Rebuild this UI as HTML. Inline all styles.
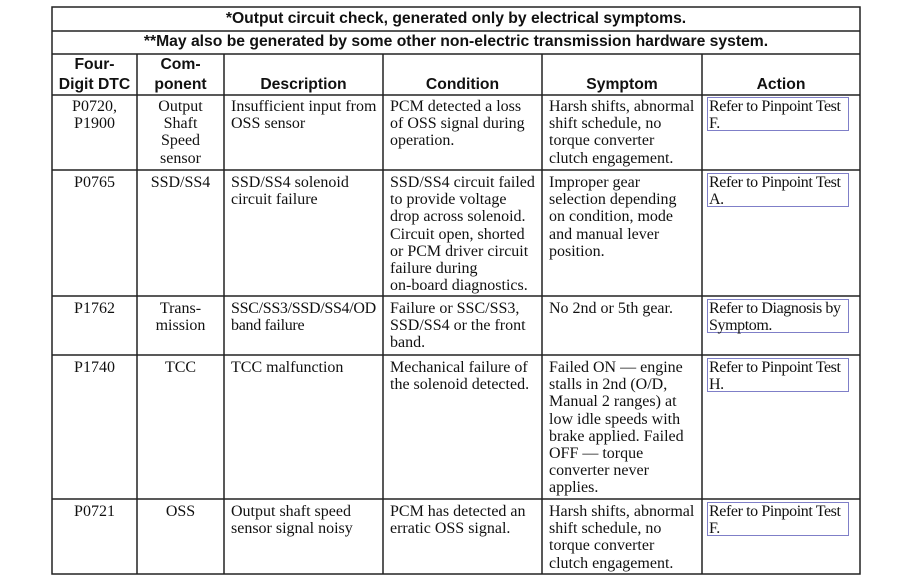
<!DOCTYPE html>
<html><head><meta charset="utf-8"><style>
body{margin:0;width:899px;height:580px;background:#fff;position:relative;overflow:hidden;font-family:"Liberation Serif",serif;color:#111}
.t{position:absolute;font-size:16px;line-height:17.2px;white-space:nowrap}
.c{text-align:center}
.h{position:absolute;font-family:"Liberation Sans",sans-serif;font-weight:bold;font-size:15.7px;line-height:20px;text-align:center;white-space:nowrap}
.b{position:absolute;border:1px solid #7f7fc8;box-sizing:border-box;left:707px;width:142px;height:34px;padding-left:1px;letter-spacing:-0.4px}
svg{position:absolute;left:0;top:0}
</style></head><body>
<svg width="899" height="580">
<g stroke="#222" stroke-width="1.5" fill="none">
<rect x="52" y="7" width="808" height="567"/>
<line x1="52" y1="31" x2="860" y2="31"/>
<line x1="52" y1="54" x2="860" y2="54"/>
<line x1="52" y1="95" x2="860" y2="95"/>
<line x1="52" y1="170" x2="860" y2="170"/>
<line x1="52" y1="296" x2="860" y2="296"/>
<line x1="52" y1="355" x2="860" y2="355"/>
<line x1="52" y1="499" x2="860" y2="499"/>
<line x1="137" y1="54" x2="137" y2="574"/>
<line x1="224" y1="54" x2="224" y2="574"/>
<line x1="383" y1="54" x2="383" y2="574"/>
<line x1="542" y1="54" x2="542" y2="574"/>
<line x1="702" y1="54" x2="702" y2="574"/>
</g></svg>
<div class="h" style="left:52px;width:808px;top:9px">*Output circuit check, generated only by electrical symptoms.</div>
<div class="h" style="left:52px;width:808px;top:32px">**May also be generated by some other non-electric transmission hardware system.</div>
<div class="h" style="left:52px;width:85px;top:55px">Four-<br>Digit DTC</div>
<div class="h" style="left:137px;width:87px;top:55px">Com-<br>ponent</div>
<div class="h" style="left:224px;width:159px;top:75px">Description</div>
<div class="h" style="left:383px;width:159px;top:75px">Condition</div>
<div class="h" style="left:542px;width:160px;top:75px">Symptom</div>
<div class="h" style="left:702px;width:158px;top:75px">Action</div>

<div class="t c" style="left:52px;width:85px;top:98px">P0720,<br>P1900</div>
<div class="t c" style="left:137px;width:87px;top:98px">Output<br>Shaft<br>Speed<br>sensor</div>
<div class="t" style="left:231px;top:98px">Insufficient input from<br>OSS sensor</div>
<div class="t" style="left:390px;top:98px">PCM detected a loss<br>of OSS signal during<br>operation.</div>
<div class="t" style="left:549px;top:98px">Harsh shifts, abnormal<br>shift schedule, no<br>torque converter<br>clutch engagement.</div>
<div class="b t" style="top:97px">Refer to Pinpoint Test<br>F.</div>

<div class="t c" style="left:52px;width:85px;top:174px">P0765</div>
<div class="t c" style="left:137px;width:87px;top:174px">SSD/SS4</div>
<div class="t" style="left:231px;top:174px">SSD/SS4 solenoid<br>circuit failure</div>
<div class="t" style="left:390px;top:174px">SSD/SS4 circuit failed<br>to provide voltage<br>drop across solenoid.<br>Circuit open, shorted<br>or PCM driver circuit<br>failure during<br>on-board diagnostics.</div>
<div class="t" style="left:549px;top:174px">Improper gear<br>selection depending<br>on condition, mode<br>and manual lever<br>position.</div>
<div class="b t" style="top:173px">Refer to Pinpoint Test<br>A.</div>

<div class="t c" style="left:52px;width:85px;top:300px">P1762</div>
<div class="t c" style="left:137px;width:87px;top:300px">Trans-<br>mission</div>
<div class="t" style="left:231px;top:300px;letter-spacing:-0.3px">SSC/SS3/SSD/SS4/OD<br>band failure</div>
<div class="t" style="left:390px;top:300px">Failure or SSC/SS3,<br>SSD/SS4 or the front<br>band.</div>
<div class="t" style="left:549px;top:300px">No 2nd or 5th gear.</div>
<div class="b t" style="top:299px">Refer to Diagnosis by<br>Symptom.</div>

<div class="t c" style="left:52px;width:85px;top:359px">P1740</div>
<div class="t c" style="left:137px;width:87px;top:359px">TCC</div>
<div class="t" style="left:231px;top:359px">TCC malfunction</div>
<div class="t" style="left:390px;top:359px">Mechanical failure of<br>the solenoid detected.</div>
<div class="t" style="left:549px;top:359px">Failed ON — engine<br>stalls in 2nd (O/D,<br>Manual 2 ranges) at<br>low idle speeds with<br>brake applied. Failed<br>OFF — torque<br>converter never<br>applies.</div>
<div class="b t" style="top:358px">Refer to Pinpoint Test<br>H.</div>

<div class="t c" style="left:52px;width:85px;top:503px">P0721</div>
<div class="t c" style="left:137px;width:87px;top:503px">OSS</div>
<div class="t" style="left:231px;top:503px">Output shaft speed<br>sensor signal noisy</div>
<div class="t" style="left:390px;top:503px">PCM has detected an<br>erratic OSS signal.</div>
<div class="t" style="left:549px;top:503px">Harsh shifts, abnormal<br>shift schedule, no<br>torque converter<br>clutch engagement.</div>
<div class="b t" style="top:502px">Refer to Pinpoint Test<br>F.</div>
</body></html>
